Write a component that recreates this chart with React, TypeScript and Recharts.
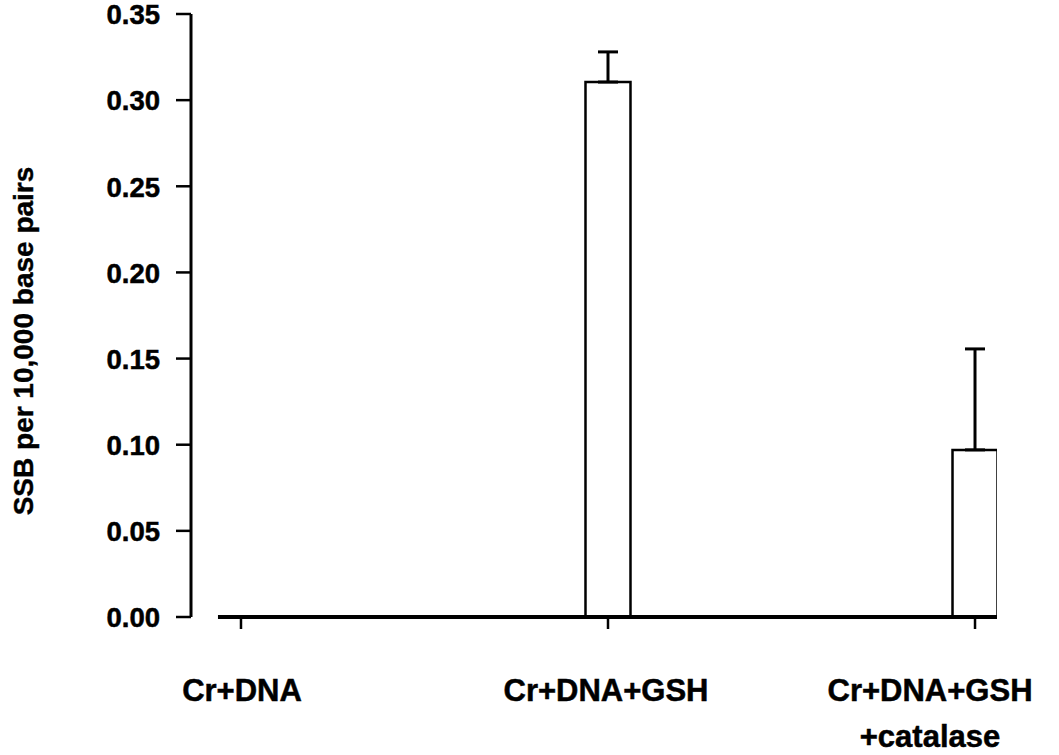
import React from 'react';
import { ComposedChart, Bar, XAxis, YAxis, ErrorBar, ReferenceLine } from 'recharts';

const categories = ['Cr+DNA', 'Cr+DNA+GSH', 'Cr+DNA+GSH\n+catalase'];
const positions = [0, 1, 2];
const means = [0, 0.3105, 0.097];
const errUpper = [0, 0.0175, 0.0586];
const yTicks = [0, 0.05, 0.1, 0.15, 0.2, 0.25, 0.3, 0.35];
const yLabel = 'SSB per 10,000 base pairs';

const data = positions.map((p, i) => ({
  x: p,
  name: categories[i],
  mean: means[i],
  err: [0, errUpper[i]],
}));

const FONT = '"Liberation Sans", Arial, sans-serif';

const YTick = (props: any) => {
  const { x, y, payload } = props;
  return (
    <text x={x - 14} y={y + 3} textAnchor="end" dominantBaseline="middle" fontFamily={FONT} fontWeight="bold" fontSize={27.5} fill="#000" stroke="#000" strokeWidth={0.5}>
      {Number(payload.value).toFixed(2)}
    </text>
  );
};

const labelShift = [1, -2, -45];

const XTick = (props: any) => {
  const { x, payload, index } = props;
  const lines = categories[payload.value].split('\n');
  const cx = x + labelShift[index ?? payload.value];
  return (
    <text x={cx} y={701} textAnchor="middle" fontFamily={FONT} fontWeight="bold" fontSize={31} fill="#000" stroke="#000" strokeWidth={0.5}>
      {lines.map((l, i) => (
        <tspan key={i} x={cx} dy={i === 0 ? 0 : 46}>{l}</tspan>
      ))}
    </text>
  );
};

const YLabel = () => (
  <text transform="translate(33,341) rotate(-90)" textAnchor="middle" fontFamily={FONT} fontWeight="bold" fontSize={28} fill="#000" stroke="#000" strokeWidth={0.4}>
    {yLabel}
  </text>
);

export default function App() {
  return (
    <div style={{ position: 'absolute', left: 0, top: 0, width: 1059, height: 755, background: '#fff' }}>
      <ComposedChart width={1059} height={755} data={data} margin={{ top: 14, right: 62, bottom: 108, left: 0 }}>
        <XAxis
          dataKey="x"
          type="number"
          domain={[-0.1362, 2.0599]}
          ticks={[0, 1, 2]}
          axisLine={false}
          tickLine={{ stroke: '#000', strokeWidth: 2.5 }}
          tickSize={12}
          tick={<XTick />}
          interval={0}
          height={30}
          allowDataOverflow
        />
        <YAxis
          type="number"
          domain={[0, 0.35]}
          ticks={yTicks}
          width={191}
          axisLine={{ stroke: '#000', strokeWidth: 3 }}
          tickLine={{ stroke: '#000', strokeWidth: 2.5 }}
          tickSize={15}
          tick={<YTick />}
          interval={0}
          label={{ content: <YLabel /> }}
        />
        <Bar dataKey="mean" barSize={45} fill="#fff" stroke="#000" strokeWidth={2.5} isAnimationActive={false}>
          <ErrorBar dataKey="err" width={10} stroke="#000" strokeWidth={3} direction="y" />
        </Bar>
        <ReferenceLine
          segment={[{ x: -0.0627, y: 0 }, { x: 2.0599, y: 0 }]}
          stroke="#000"
          strokeWidth={4}
          ifOverflow="visible"
        />
      </ComposedChart>
    </div>
  );
}
